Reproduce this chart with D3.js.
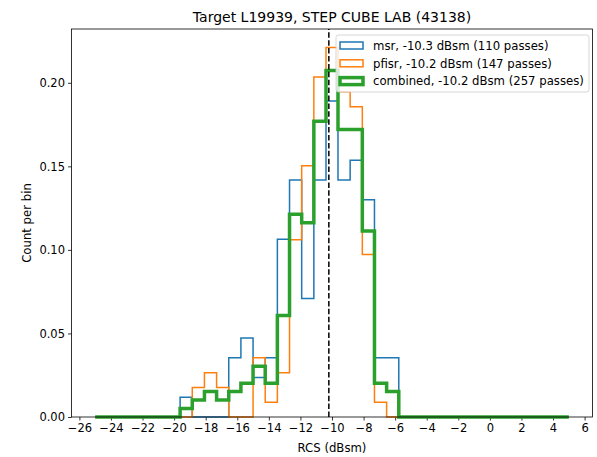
<!DOCTYPE html>
<html>
<head>
<meta charset="utf-8">
<script src="https://cdn.jsdelivr.net/npm/d3@7"></script>
<style>
    body { margin: 0; background: #fff; }
    svg text { font-family: "DejaVu Sans", sans-serif; fill: #000; }
</style>
</head>
<body>
<script>
(function(){

//bin edges of the histogram (dBsm)
var binEdges = [-25.00, -24.23, -23.46, -22.69, -21.92, -21.15, -20.38, -19.62, -18.85, -18.08,
                -17.31, -16.54, -15.77, -15.00, -14.23, -13.46, -12.69, -11.92, -11.15, -10.38,
                -9.62, -8.85, -8.08, -7.31, -6.54, -5.77, -5.00, -4.23, -3.46, -2.69,
                -1.92, -1.15, -0.38, 0.38, 1.15, 1.92, 2.69, 3.46, 4.23, 5.00];

//normalised counts per bin, one value per bin
var msrValues = [0, 0, 0, 0, 0, 0, 0, 0.0118, 0, 0,
                 0, 0.0355, 0.0473, 0.0236, 0.0355, 0.1064, 0.1418, 0.0709, 0.1418, 0.1891,
                 0.1418, 0.1536, 0.1300, 0.0355, 0.0355, 0, 0, 0, 0, 0,
                 0, 0, 0, 0, 0, 0, 0, 0, 0];
var pfisrValues = [0, 0, 0, 0, 0, 0, 0, 0, 0.0177, 0.0265,
                   0.0177, 0, 0, 0.0354, 0.0088, 0.0265, 0.1061, 0.1503, 0.2034, 0.2211,
                   0.1946, 0.1857, 0.0973, 0.0088, 0, 0, 0, 0, 0, 0,
                   0, 0, 0, 0, 0, 0, 0, 0, 0];
var combinedValues = [0, 0, 0, 0, 0, 0, 0, 0.0051, 0.0101, 0.0152,
                      0.0101, 0.0152, 0.0202, 0.0303, 0.0202, 0.0607, 0.1214, 0.1163, 0.1770, 0.2074,
                      0.1720, 0.1720, 0.1113, 0.0202, 0.0152, 0, 0, 0, 0, 0,
                      0, 0, 0, 0, 0, 0, 0, 0, 0];

var seriesNames = ["msr, -10.3 dBsm (110 passes)", "pfisr, -10.2 dBsm (147 passes)", "combined, -10.2 dBsm (257 passes)"];
var meanRcs = -10.2;

var xTicks = [-26, -24, -22, -20, -18, -16, -14, -12, -10, -8, -6, -4, -2, 0, 2, 4, 6];
var yTicks = [0, 0.05, 0.10, 0.15, 0.20];
var xDomain = [-26.5, 6.5];
var yDomain = [0, 0.2322];

var width = 597,
    height = 457,
    left = 71.5,
    right = 592.5,
    top = 29,
    bottom = 417;

var svg = d3.select("body")
    .append("svg")
    .attr("width", width)
    .attr("height", height);

var x = d3.scaleLinear().domain(xDomain).range([left, right]);
var y = d3.scaleLinear().domain(yDomain).range([bottom, top]);

//axes
var xAxis = d3.axisBottom(x)
    .tickValues(xTicks)
    .tickSize(3.5)
    .tickPadding(3)
    .tickFormat(d3.format("d"));
var yAxis = d3.axisLeft(y)
    .tickValues(yTicks)
    .tickSize(3.5)
    .tickPadding(3)
    .tickFormat(d3.format(".2f"));

var gx = svg.append("g")
    .attr("transform", "translate(0," + bottom + ")")
    .call(xAxis);
var gy = svg.append("g")
    .attr("transform", "translate(" + left + ",0)")
    .call(yAxis);

[gx, gy].forEach(function(g){
    g.select(".domain").remove();
    g.selectAll(".tick line").attr("stroke", "#000").attr("stroke-width", 0.8);
    g.selectAll(".tick text").attr("font-size", 11.5).attr("font-family", "DejaVu Sans");
});

//step outline of one histogram
function stepPoints(values){
    var pts = [[binEdges[0], 0]];
    values.forEach(function(v, i){
        pts.push([binEdges[i], v]);
    });
    pts.push([binEdges[binEdges.length - 1], values[values.length - 1]]);
    pts.push([binEdges[binEdges.length - 1], 0]);
    return pts;
};

var line = d3.line()
    .x(function(d){ return x(d[0]); })
    .y(function(d){ return y(d[1]); })
    .curve(d3.curveStepAfter);

var series = [
    {values: msrValues, color: "#1f77b4", lw: 1.5},
    {values: pfisrValues, color: "#ff7f0e", lw: 1.5},
    {values: combinedValues, color: "#2ca02c", lw: 3.5}
];

svg.selectAll(".hist")
    .data(series)
    .enter()
    .append("path")
    .attr("class", "hist")
    .attr("fill", "none")
    .attr("stroke", function(d){ return d.color; })
    .attr("stroke-width", function(d){ return d.lw; })
    .attr("stroke-linejoin", "miter")
    .attr("d", function(d){ return line(stepPoints(d.values)); });

//mean line
svg.append("line")
    .attr("x1", x(meanRcs))
    .attr("x2", x(meanRcs))
    .attr("y1", y(yDomain[0]))
    .attr("y2", y(yDomain[1]))
    .attr("stroke", "#000")
    .attr("stroke-width", 1.5)
    .attr("stroke-dasharray", "5.5,2.4");

//frame
svg.append("rect")
    .attr("x", left)
    .attr("y", top)
    .attr("width", right - left)
    .attr("height", bottom - top)
    .attr("fill", "none")
    .attr("stroke", "#000")
    .attr("stroke-width", 0.8);

//legend
var legend = svg.append("g").attr("transform", "translate(336,35)");
legend.append("rect")
    .attr("width", 253)
    .attr("height", 57)
    .attr("rx", 2.5)
    .attr("fill", "#fff")
    .attr("fill-opacity", 0.8)
    .attr("stroke", "#ccc")
    .attr("stroke-width", 0.8);

var items = legend.selectAll(".item")
    .data(series)
    .enter()
    .append("g")
    .attr("class", "item")
    .attr("transform", function(d, i){ return "translate(0," + (10.5 + i * 17.8) + ")"; });

items.append("rect")
    .attr("x", 4)
    .attr("y", -3.5)
    .attr("width", 23)
    .attr("height", 7)
    .attr("fill", "none")
    .attr("stroke", function(d){ return d.color; })
    .attr("stroke-width", function(d){ return d.lw; });

items.append("text")
    .attr("x", 37)
    .attr("y", 4.2)
    .attr("font-size", 11.7)
    .text(function(d, i){ return seriesNames[i]; });

//titles
svg.append("text")
    .attr("x", (left + right) / 2)
    .attr("y", 22)
    .attr("text-anchor", "middle")
    .attr("font-size", 14)
    .text("Target L19939, STEP CUBE LAB (43138)");

svg.append("text")
    .attr("x", (left + right) / 2)
    .attr("y", 452)
    .attr("text-anchor", "middle")
    .attr("font-size", 11.7)
    .text("RCS (dBsm)");

svg.append("text")
    .attr("transform", "translate(31," + ((top + bottom) / 2) + ") rotate(-90)")
    .attr("text-anchor", "middle")
    .attr("font-size", 11.7)
    .text("Count per bin");

})();
</script>
</body>
</html>
